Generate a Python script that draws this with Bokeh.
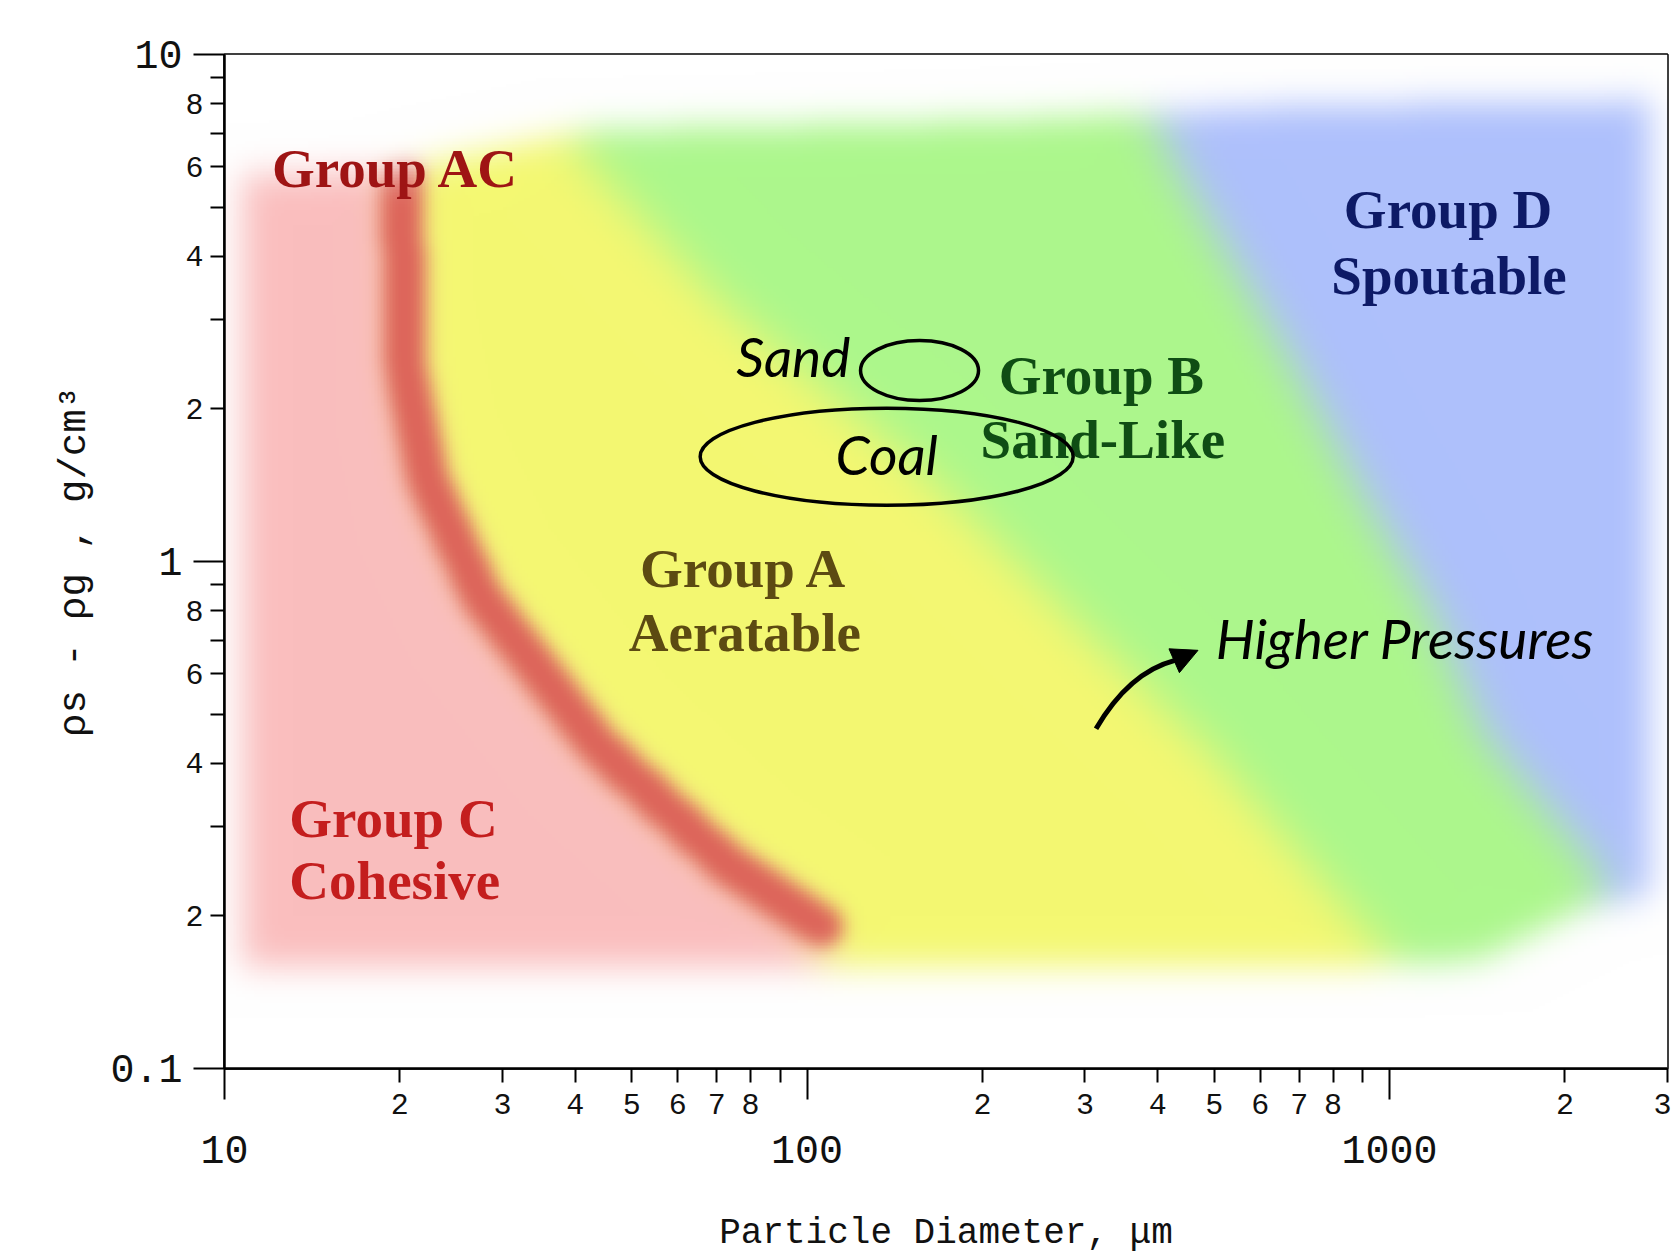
import numpy as np
from bokeh.plotting import figure
from bokeh.models import LogAxis, FixedTicker, Arrow, NormalHead
from bokeh.core.properties import value
from bokeh.embed import file_html
from bokeh.resources import INLINE

# ---------------- axis data ----------------
x_limits = [10, 3000]          # particle diameter, um
y_limits = [0.1, 10]           # rho_s - rho_g, g/cm3

x_minor_ticks = [20, 30, 40, 50, 60, 70, 80, 90, 200, 300, 400, 500, 600, 700, 800, 900, 2000, 3000]
x_minor_labels = ["2", "3", "4", "5", "6", "7", "8", "", "2", "3", "4", "5", "6", "7", "8", "", "2", "3"]
x_decades = [10, 100, 1000]
x_decade_labels = ["10", "100", "1000"]

y_minor_ticks = [0.2, 0.3, 0.4, 0.5, 0.6, 0.7, 0.8, 0.9, 2, 3, 4, 5, 6, 7, 8, 9]
y_minor_labels = ["2", "", "4", "", "6", "", "8", "", "2", "", "4", "", "6", "", "8", ""]
y_decades = [0.1, 1, 10]
y_decade_labels = ["0.1", "1", "10"]

# ---------------- region boundaries (d in um, delta rho in g/cm3) ----------------
ca_band_d = [20.1, 20.5, 22.3, 27.6, 43.8, 72.6, 106]
ca_band_rho = [5.89, 2.35, 1.45, 0.85, 0.432, 0.254, 0.190]
ab_d = [40.2, 70.4, 156, 265, 490, 803, 1006]
ab_rho = [6.50, 3.27, 1.53, 0.838, 0.424, 0.220, 0.163]
bd_d = [383, 430, 685, 904, 1191, 1452, 1892, 2305]
bd_rho = [8.12, 5.98, 2.41, 1.33, 0.775, 0.452, 0.315, 0.241]
edge_top_d = [10.3, 20.1, 25.5, 42.7, 215, 705, 3000]
edge_top_rho = [5.77, 5.90, 6.30, 7.10, 7.41, 7.93, 8.12]
edge_bot_d = [10.3, 705, 1425, 2120, 3000]
edge_bot_rho = [0.160, 0.158, 0.163, 0.205, 0.225]
edge_left_d = 10.8
edge_right_d = 2800

# ---------------- annotations ----------------
group_text = ["Group AC", "Group D", "Spoutable", "Group B", "Sand-Like",
              "Group A", "Aeratable", "Group C", "Cohesive"]
group_d = [19.7, 1260, 1265, 320, 322, 78.0, 78.2, 19.5, 19.6]
group_rho = [5.97, 4.95, 3.67, 2.33, 1.74, 0.969, 0.724, 0.311, 0.235]
group_colors = ["#9e1414", "#0d1a66", "#0d1a66", "#0f4d14", "#0f4d14",
                "#5c4a12", "#5c4a12", "#c41e1e", "#c41e1e"]

material_names = ["Sand", "Coal"]
material_d = [156, 137]
material_rho = [2.38, 1.61]
material_label_d = [94.7, 137]
material_label_rho = [2.54, 1.63]

arrow_d = [313.4, 357, 428, 469]
arrow_rho = [0.4677, 0.604, 0.638, 0.668]
arrow_label = "Higher Pressures"
arrow_label_d = 503
arrow_label_rho = 0.705

# ---------------- background image (blurred regions) ----------------
FRAME_W, FRAME_H = 1443, 1014
NX, NY = 481, 338
lx0, lx1 = np.log10(x_limits)
ly0, ly1 = np.log10(y_limits)
gx = lx0 + (np.arange(NX) + 0.5) * (lx1 - lx0) / NX
gy = ly0 + (np.arange(NY) + 0.5) * (ly1 - ly0) / NY
LX, LY = np.meshgrid(gx, gy)


def x_of_y(dv, rv):
    ld, lr = np.log10(dv), np.log10(rv)
    o = np.argsort(lr)
    return np.interp(LY, lr[o], ld[o])


def y_of_x(dv, rv):
    ld, lr = np.log10(dv), np.log10(rv)
    o = np.argsort(ld)
    return np.interp(LX, ld[o], lr[o])


def gblur(a, sig):
    r = int(3 * sig + 1)
    k = np.exp(-0.5 * (np.arange(-r, r + 1) / sig) ** 2)
    k /= k.sum()
    out = a.astype(float)
    for ax in (0, 1):
        pw = [(0, 0)] * out.ndim
        pw[ax] = (r, r)
        pd = np.pad(out, pw, mode="edge")
        n = out.shape[ax]
        acc = np.zeros_like(out)
        for i in range(2 * r + 1):
            sl = [slice(None)] * out.ndim
            sl[ax] = slice(i, i + n)
            acc += k[i] * pd[tuple(sl)]
        out = acc
    return out


xca = x_of_y(ca_band_d, ca_band_rho)
xab = x_of_y(ab_d, ab_rho)
xbd = x_of_y(bd_d, bd_rho)
reg = np.where(LX < xca, 0, np.where(LX < xab, 1, np.where(LX < xbd, 2, 3)))
palette = np.array([[250, 190, 190], [244, 248, 114], [172, 247, 140], [174, 192, 252]], float)
col = gblur(palette[reg], 7.5)

# red C/A boundary band
PX = (LX - lx0) / (lx1 - lx0) * NX
PY = (LY - ly0) / (ly1 - ly0) * NY
bx = (np.log10(ca_band_d) - lx0) / (lx1 - lx0) * NX
by = (np.log10(ca_band_rho) - ly0) / (ly1 - ly0) * NY
dist = np.full(LX.shape, 1e9)
for i in range(len(bx) - 1):
    vx, vy = bx[i + 1] - bx[i], by[i + 1] - by[i]
    t = np.clip(((PX - bx[i]) * vx + (PY - by[i]) * vy) / (vx * vx + vy * vy), 0, 1)
    dist = np.minimum(dist, np.hypot(PX - bx[i] - t * vx, PY - by[i] - t * vy))
band = gblur((dist < 7.0).astype(float), 3.0)[..., None]
col = col * (1 - band) + np.array([221, 100, 90], float) * band

ytop = y_of_x(edge_top_d, edge_top_rho)
ybot = y_of_x(edge_bot_d, edge_bot_rho)
mask = ((LX > np.log10(edge_left_d)) & (LX < np.log10(edge_right_d)) &
        (LY < ytop) & (LY > ybot)).astype(float)
alpha = gblur(mask, 5.5)[..., None]
rgb = 255 - alpha * (255 - col)

img = np.empty((NY, NX), dtype=np.uint32)
view = img.view(dtype=np.uint8).reshape((NY, NX, 4))
view[..., :3] = np.clip(rgb, 0, 255).astype(np.uint8)
view[..., 3] = 255

# ---------------- figure ----------------
p = figure(x_axis_type="log", y_axis_type="log",
           x_range=(x_limits[0], x_limits[1]), y_range=(y_limits[0], y_limits[1]),
           frame_width=FRAME_W, frame_height=FRAME_H,
           min_border_left=224, min_border_right=4, min_border_top=54, min_border_bottom=190,
           output_backend="svg", toolbar_location=None,
           background_fill_color="white", border_fill_color="white")
p.grid.visible = False
p.outline_line_color = "black"
p.outline_line_width = 2.5

p.image_rgba(image=[img], x=x_limits[0], y=y_limits[0],
             dw=x_limits[1] - x_limits[0], dh=y_limits[1] - y_limits[0])

FONT = "Liberation Mono"

# x axis: minor labels
xa = p.xaxis[0]
xa.ticker = FixedTicker(ticks=x_minor_ticks, minor_ticks=x_decades)
xa.major_label_overrides = {t: l for t, l in zip(x_minor_ticks, x_minor_labels)}
xa.major_tick_out = 14
xa.major_tick_in = 0
xa.minor_tick_out = 31
xa.minor_tick_in = 0
xa.major_tick_line_width = 2
xa.minor_tick_line_width = 2
xa.axis_line_width = 2.5
xa.major_label_text_font = FONT
xa.major_label_text_font_size = "30px"
xa.major_label_text_color = "#111111"
xa.major_label_standoff = -6

xa2 = LogAxis(ticker=FixedTicker(ticks=x_decades, minor_ticks=[]),
              major_label_overrides={t: l for t, l in zip(x_decades, x_decade_labels)},
              axis_line_color=None, major_tick_line_color=None, minor_tick_line_color=None,
              major_tick_out=0, major_tick_in=0, minor_tick_out=0, minor_tick_in=0,
              major_label_standoff=19, major_label_text_font=FONT,
              major_label_text_font_size="40px", major_label_text_color="#111111",
              axis_label="Particle Diameter, μm", axis_label_text_font=FONT,
              axis_label_text_font_size="36px", axis_label_text_font_style="normal",
              axis_label_text_color="#111111", axis_label_standoff=47)
p.add_layout(xa2, "below")

# y axis
ya = p.yaxis[0]
ya.ticker = FixedTicker(ticks=y_minor_ticks, minor_ticks=y_decades)
ya.major_label_overrides = {t: l for t, l in zip(y_minor_ticks, y_minor_labels)}
ya.major_tick_out = 14
ya.major_tick_in = 0
ya.minor_tick_out = 31
ya.minor_tick_in = 0
ya.major_tick_line_width = 2
ya.minor_tick_line_width = 2
ya.axis_line_width = 2.5
ya.major_label_text_font = FONT
ya.major_label_text_font_size = "30px"
ya.major_label_text_color = "#111111"
ya.major_label_standoff = -10

ya2 = LogAxis(ticker=FixedTicker(ticks=y_decades, minor_ticks=[]),
              major_label_overrides={t: l for t, l in zip(y_decades, y_decade_labels)},
              axis_line_color=None, major_tick_line_color=None, minor_tick_line_color=None,
              major_tick_out=0, major_tick_in=0, minor_tick_out=0, minor_tick_in=0,
              major_label_standoff=0, major_label_text_font=FONT,
              major_label_text_font_size="40px", major_label_text_color="#111111",
              axis_label="ρs - ρg , g/cm³", axis_label_text_font=FONT,
              axis_label_text_font_size="39px", axis_label_text_font_style="normal",
              axis_label_text_color="#111111", axis_label_standoff=10)
p.add_layout(ya2, "left")

# group labels
p.text(x=group_d, y=group_rho, text=group_text, text_color=group_colors,
       text_font=value("Liberation Serif"), text_font_style="bold", text_font_size="55px",
       text_align="center", text_baseline="middle")

# materials
p.ellipse(x=material_d, y=material_rho, width=[118, 373], height=[60, 97],
          width_units="screen", height_units="screen",
          fill_color=None, line_color="black", line_width=3.5)
p.text(x=material_label_d, y=material_label_rho, text=material_names, text_color="black",
       text_font=value("Lato"), text_font_style="italic", text_font_size="55px",
       text_align="center", text_baseline="middle")

# higher pressure arrow
p.quadratic(x0=[arrow_d[0]], y0=[arrow_rho[0]], cx=[arrow_d[1]], cy=[arrow_rho[1]],
            x1=[arrow_d[2]], y1=[arrow_rho[2]], line_color="black", line_width=5)
p.add_layout(Arrow(end=NormalHead(size=26, fill_color="black", line_color="black", line_width=1),
                   x_start=arrow_d[2], y_start=arrow_rho[2], x_end=arrow_d[3], y_end=arrow_rho[3],
                   line_color="black", line_width=5))
p.text(x=[arrow_label_d], y=[arrow_label_rho], text=[arrow_label], text_color="black",
       text_font=value("Lato"), text_font_style="italic", text_font_size="55px",
       text_align="left", text_baseline="middle")

open("out.html", "w").write(file_html(p, INLINE, title="Geldart diagram"))
